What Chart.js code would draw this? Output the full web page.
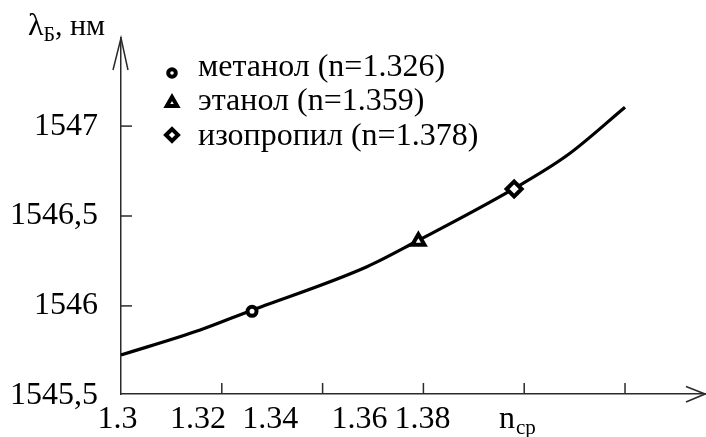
<!DOCTYPE html>
<html><head><meta charset="utf-8">
<script src="https://cdn.jsdelivr.net/npm/chart.js@4"></script>
<style>html,body{margin:0;padding:0;background:#fff;} canvas{display:block}</style>
</head><body>
<canvas id="c" width="706" height="437"></canvas>
<script>
// ---- data ----
const curveN = [1.300, 1.3157, 1.3252, 1.3488, 1.3585, 1.3777, 1.3886, 1.400];
const curveL = [1545.727, 1545.866, 1545.968, 1546.218, 1546.357, 1546.648, 1546.839, 1547.105];
const solventNames = ['метанол (n=1.326)', 'этанол (n=1.359)', 'изопропил (n=1.378)'];
const solventN = [1.326, 1.359, 1.378];
const solventL = [1545.97, 1546.36, 1546.65];
const solventStyle = ['circle', 'triangle', 'rectRot'];
const xTickValues = [1.30, 1.32, 1.34, 1.36, 1.38, 1.40];
const xLabelText = ['1.3', '1.32', '1.34', '1.36', '1.38'];
const xLabelAt = [1.2993, 1.3153, 1.3296, 1.3473, 1.3598];
const xAxisName = ['n', 'ср'];
const xAxisNameAt = 1.3750;
const yTickValues = [1545.5, 1546, 1546.5, 1547];
const yAxisName = ['λ', 'Б', ', нм'];

const SERIF = '"Liberation Serif", "Times New Roman", serif';
const AX = '#2a2a2a';
const markerR = [4.5, 7, 7.5];
const legendR = [3.8, 6, 6];

function drawMarker(ctx, style, r, x, y) {
  ctx.save();
  ctx.strokeStyle = '#000'; ctx.fillStyle = '#fff'; ctx.lineWidth = 4;
  Chart.helpers.drawPoint(ctx, {pointStyle: style, radius: r, borderWidth: 4, rotation: 0}, x, y);
  ctx.restore();
}

const decor = {
  id: 'decor',
  afterDraw(chart) {
    const ctx = chart.ctx, xs = chart.scales.x, ys = chart.scales.y, ca = chart.chartArea;
    ctx.save();
    ctx.strokeStyle = AX; ctx.lineWidth = 1.5;
    // inside tick marks
    xTickValues.forEach(v => {
      const px = xs.getPixelForValue(v);
      if (px <= ca.left + 1) return;
      ctx.beginPath(); ctx.moveTo(px, ca.bottom); ctx.lineTo(px, ca.bottom - 11); ctx.stroke();
    });
    yTickValues.forEach(v => {
      const py = ys.getPixelForValue(v);
      if (py >= ca.bottom - 1) return;
      ctx.beginPath(); ctx.moveTo(ca.left, py); ctx.lineTo(ca.left + 11, py); ctx.stroke();
    });
    // arrows
    ctx.beginPath();
    ctx.moveTo(ca.left - 8, ca.top + 32); ctx.lineTo(ca.left, ca.top); ctx.lineTo(ca.left + 7, ca.top + 32);
    ctx.stroke();
    ctx.beginPath();
    ctx.moveTo(ca.right - 19, ca.bottom - 7.5); ctx.lineTo(ca.right, ca.bottom); ctx.lineTo(ca.right - 19, ca.bottom + 8);
    ctx.stroke();
    // x tick labels (placed as in the original figure)
    ctx.fillStyle = '#000';
    ctx.textBaseline = 'alphabetic';
    ctx.font = '32px ' + SERIF; ctx.textAlign = 'center';
    xLabelText.forEach((t, i) => ctx.fillText(t, xs.getPixelForValue(xLabelAt[i]), ca.bottom + 34));
    ctx.textAlign = 'left';
    // axis names
    let x = 28;
    ctx.font = '32px ' + SERIF; ctx.fillText(yAxisName[0], x, 35); x += ctx.measureText(yAxisName[0]).width;
    ctx.font = '20px ' + SERIF; ctx.fillText(yAxisName[1], x, 41); x += ctx.measureText(yAxisName[1]).width;
    ctx.font = '30px ' + SERIF; ctx.fillText(yAxisName[2], x, 35);
    let nx = xs.getPixelForValue(xAxisNameAt);
    ctx.font = '32px ' + SERIF; ctx.fillText(xAxisName[0], nx, ca.bottom + 34); nx += ctx.measureText(xAxisName[0]).width + 1;
    ctx.font = '21px ' + SERIF; ctx.fillText(xAxisName[1], nx, ca.bottom + 40);
    // legend
    const lx = 172, ly = [73, 103, 135], tb = [76, 110, 145];
    solventNames.forEach((name, i) => {
      drawMarker(ctx, solventStyle[i], legendR[i], lx, ly[i]);
      ctx.fillStyle = '#000';
      ctx.font = '32px ' + SERIF;
      ctx.fillText(name, 198, tb[i]);
    });
    ctx.restore();
  }
};

const datasets = [{
  data: curveN.map((n, i) => ({x: n, y: curveL[i]})),
  showLine: true, borderColor: '#000', borderWidth: 3.2, pointRadius: 0,
  tension: 0.3, cubicInterpolationMode: 'monotone', order: 10
}];
solventN.forEach((n, i) => datasets.push({
  label: solventNames[i],
  data: [{x: n, y: solventL[i]}],
  pointStyle: solventStyle[i], pointRadius: markerR[i], pointBorderWidth: 4,
  pointBorderColor: '#000', pointBackgroundColor: '#fff', showLine: false, order: 0
}));

new Chart(document.getElementById('c'), {
  type: 'scatter',
  data: {datasets},
  options: {
    responsive: false, animation: false, devicePixelRatio: 1,
    layout: {autoPadding: false, padding: {top: 38, right: 1, left: 0, bottom: 0}},
    plugins: {legend: {display: false}, tooltip: {enabled: false}},
    scales: {
      x: {
        type: 'linear', min: 1.30, max: 1.41587,
        grid: {display: false, drawTicks: false},
        border: {display: true, color: AX, width: 1.5},
        afterFit: s => { s.height = 43; s.paddingLeft = 0; s.paddingRight = 0; },
        ticks: {display: false}
      },
      y: {
        type: 'linear', min: 1545.51, max: 1547.49,
        grid: {display: false, drawTicks: false},
        border: {display: true, color: AX, width: 1.5},
        afterBuildTicks: s => { s.ticks = yTickValues.map(v => ({value: v})); },
        afterFit: s => { s.width = 121; s.paddingTop = 0; s.paddingBottom = 0; },
        ticks: {autoSkip: false, padding: 23, color: '#000',
          font: {family: SERIF, size: 32},
          callback: v => String(v).replace('.', ',')}
      }
    }
  },
  plugins: [decor]
});
</script>
</body></html>
